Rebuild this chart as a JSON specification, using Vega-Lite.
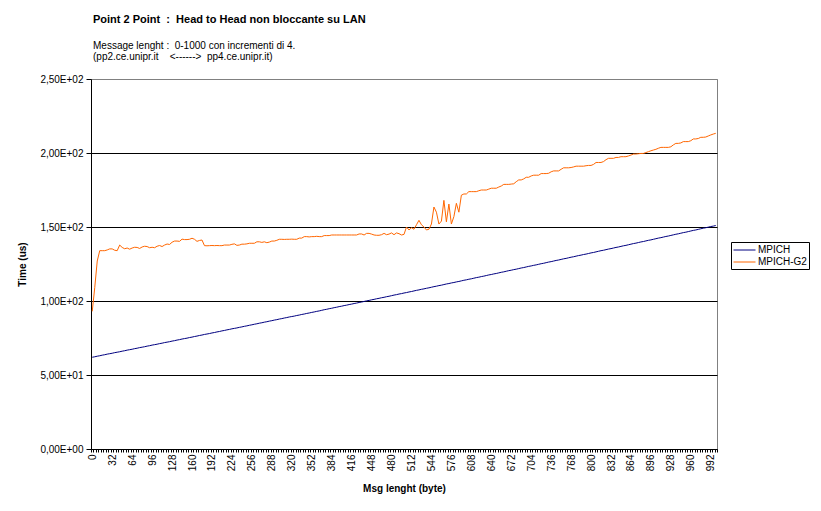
{
  "$schema": "https://vega.github.io/schema/vega-lite/v6.json",
  "description": "Point 2 Point: Head to Head non bloccante su LAN, MPICH vs MPICH-G2",
  "width": 626,
  "height": 370,
  "autosize": "none",
  "padding": {"left": 91, "top": 79, "right": 104, "bottom": 62},
  "background": "white",
  "title": {
    "text": "Point 2 Point \u00a0:\u00a0 Head to Head non bloccante su LAN",
    "subtitle": ["Message lenght : \u00a00-1000 con incrementi di 4.", "(pp2.ce.unipr.it \u00a0\u00a0 <------> \u00a0pp4.ce.unipr.it)"],
    "anchor": "start",
    "frame": "group",
    "dx": 2,
    "offset": 12,
    "font": "Liberation Sans",
    "fontSize": 11,
    "fontWeight": "bold",
    "color": "black",
    "subtitleFont": "Liberation Sans",
    "subtitleFontSize": 10,
    "subtitleColor": "black",
    "subtitleLineHeight": 11,
    "subtitlePadding": 16
  },
  "data": {
    "values": [
      {"b": 0, "MPICH": 62.0, "MPICH-G2": 93},
      {"b": 4, "MPICH": 62.3, "MPICH-G2": 109},
      {"b": 8, "MPICH": 62.7, "MPICH-G2": 127},
      {"b": 12, "MPICH": 63.0, "MPICH-G2": 134},
      {"b": 16, "MPICH": 63.4, "MPICH-G2": 134},
      {"b": 20, "MPICH": 63.7, "MPICH-G2": 134},
      {"b": 24, "MPICH": 64.1, "MPICH-G2": 134.5},
      {"b": 28, "MPICH": 64.4, "MPICH-G2": 135.2},
      {"b": 32, "MPICH": 64.7, "MPICH-G2": 135.2},
      {"b": 36, "MPICH": 65.1, "MPICH-G2": 134.3},
      {"b": 40, "MPICH": 65.4, "MPICH-G2": 134},
      {"b": 44, "MPICH": 65.7, "MPICH-G2": 137.8},
      {"b": 48, "MPICH": 66.1, "MPICH-G2": 136.2},
      {"b": 52, "MPICH": 66.4, "MPICH-G2": 135.3},
      {"b": 56, "MPICH": 66.8, "MPICH-G2": 135.8},
      {"b": 60, "MPICH": 67.1, "MPICH-G2": 135},
      {"b": 64, "MPICH": 67.4, "MPICH-G2": 135.8},
      {"b": 68, "MPICH": 67.8, "MPICH-G2": 136.3},
      {"b": 72, "MPICH": 68.1, "MPICH-G2": 136.2},
      {"b": 76, "MPICH": 68.5, "MPICH-G2": 135.5},
      {"b": 80, "MPICH": 68.8, "MPICH-G2": 136.5},
      {"b": 84, "MPICH": 69.1, "MPICH-G2": 137},
      {"b": 88, "MPICH": 69.5, "MPICH-G2": 136.8},
      {"b": 92, "MPICH": 69.8, "MPICH-G2": 136},
      {"b": 96, "MPICH": 70.2, "MPICH-G2": 136.3},
      {"b": 100, "MPICH": 70.5, "MPICH-G2": 136},
      {"b": 104, "MPICH": 70.8, "MPICH-G2": 137},
      {"b": 108, "MPICH": 71.2, "MPICH-G2": 137.5},
      {"b": 112, "MPICH": 71.5, "MPICH-G2": 136.8},
      {"b": 116, "MPICH": 71.9, "MPICH-G2": 137.8},
      {"b": 120, "MPICH": 72.2, "MPICH-G2": 138.5},
      {"b": 124, "MPICH": 72.5, "MPICH-G2": 138.2},
      {"b": 128, "MPICH": 72.9, "MPICH-G2": 139.7},
      {"b": 132, "MPICH": 73.2, "MPICH-G2": 140.5},
      {"b": 136, "MPICH": 73.6, "MPICH-G2": 140.5},
      {"b": 140, "MPICH": 73.9, "MPICH-G2": 140.3},
      {"b": 144, "MPICH": 74.3, "MPICH-G2": 141.8},
      {"b": 148, "MPICH": 74.6, "MPICH-G2": 141.5},
      {"b": 152, "MPICH": 74.9, "MPICH-G2": 141.5},
      {"b": 156, "MPICH": 75.3, "MPICH-G2": 141.7},
      {"b": 160, "MPICH": 75.6, "MPICH-G2": 142.4},
      {"b": 164, "MPICH": 76.0, "MPICH-G2": 141.7},
      {"b": 168, "MPICH": 76.3, "MPICH-G2": 140.3},
      {"b": 172, "MPICH": 76.7, "MPICH-G2": 140.9},
      {"b": 176, "MPICH": 77.0, "MPICH-G2": 141.2},
      {"b": 180, "MPICH": 77.4, "MPICH-G2": 137.4},
      {"b": 184, "MPICH": 77.7, "MPICH-G2": 137.3},
      {"b": 188, "MPICH": 78.0, "MPICH-G2": 137.4},
      {"b": 192, "MPICH": 78.4, "MPICH-G2": 137.5},
      {"b": 196, "MPICH": 78.7, "MPICH-G2": 137.4},
      {"b": 200, "MPICH": 79.1, "MPICH-G2": 137.5},
      {"b": 204, "MPICH": 79.4, "MPICH-G2": 137.4},
      {"b": 208, "MPICH": 79.8, "MPICH-G2": 137.4},
      {"b": 212, "MPICH": 80.1, "MPICH-G2": 137.8},
      {"b": 216, "MPICH": 80.5, "MPICH-G2": 137.8},
      {"b": 220, "MPICH": 80.8, "MPICH-G2": 137.8},
      {"b": 224, "MPICH": 81.2, "MPICH-G2": 138.3},
      {"b": 228, "MPICH": 81.5, "MPICH-G2": 138.6},
      {"b": 232, "MPICH": 81.8, "MPICH-G2": 137.6},
      {"b": 236, "MPICH": 82.2, "MPICH-G2": 137.8},
      {"b": 240, "MPICH": 82.5, "MPICH-G2": 138.4},
      {"b": 244, "MPICH": 82.9, "MPICH-G2": 138.4},
      {"b": 248, "MPICH": 83.2, "MPICH-G2": 138.6},
      {"b": 252, "MPICH": 83.6, "MPICH-G2": 139},
      {"b": 256, "MPICH": 83.9, "MPICH-G2": 139},
      {"b": 260, "MPICH": 84.3, "MPICH-G2": 139},
      {"b": 264, "MPICH": 84.6, "MPICH-G2": 140},
      {"b": 268, "MPICH": 85.0, "MPICH-G2": 140},
      {"b": 272, "MPICH": 85.3, "MPICH-G2": 139.6},
      {"b": 276, "MPICH": 85.7, "MPICH-G2": 140},
      {"b": 280, "MPICH": 86.0, "MPICH-G2": 139.4},
      {"b": 284, "MPICH": 86.4, "MPICH-G2": 139.8},
      {"b": 288, "MPICH": 86.7, "MPICH-G2": 140.5},
      {"b": 292, "MPICH": 87.1, "MPICH-G2": 140.5},
      {"b": 296, "MPICH": 87.4, "MPICH-G2": 141},
      {"b": 300, "MPICH": 87.8, "MPICH-G2": 141.7},
      {"b": 304, "MPICH": 88.1, "MPICH-G2": 141.7},
      {"b": 308, "MPICH": 88.5, "MPICH-G2": 141.6},
      {"b": 312, "MPICH": 88.8, "MPICH-G2": 141.7},
      {"b": 316, "MPICH": 89.2, "MPICH-G2": 141.7},
      {"b": 320, "MPICH": 89.5, "MPICH-G2": 141.8},
      {"b": 324, "MPICH": 89.8, "MPICH-G2": 141.7},
      {"b": 328, "MPICH": 90.2, "MPICH-G2": 141.7},
      {"b": 332, "MPICH": 90.5, "MPICH-G2": 142.5},
      {"b": 336, "MPICH": 90.9, "MPICH-G2": 142.5},
      {"b": 340, "MPICH": 91.2, "MPICH-G2": 143.5},
      {"b": 344, "MPICH": 91.6, "MPICH-G2": 143.5},
      {"b": 348, "MPICH": 91.9, "MPICH-G2": 143.3},
      {"b": 352, "MPICH": 92.3, "MPICH-G2": 143.5},
      {"b": 356, "MPICH": 92.6, "MPICH-G2": 143.5},
      {"b": 360, "MPICH": 93.0, "MPICH-G2": 143.7},
      {"b": 364, "MPICH": 93.3, "MPICH-G2": 143.5},
      {"b": 368, "MPICH": 93.7, "MPICH-G2": 143.5},
      {"b": 372, "MPICH": 94.1, "MPICH-G2": 144.2},
      {"b": 376, "MPICH": 94.4, "MPICH-G2": 144.2},
      {"b": 380, "MPICH": 94.8, "MPICH-G2": 144.2},
      {"b": 384, "MPICH": 95.1, "MPICH-G2": 144.6},
      {"b": 388, "MPICH": 95.5, "MPICH-G2": 144.6},
      {"b": 392, "MPICH": 95.8, "MPICH-G2": 144.6},
      {"b": 396, "MPICH": 96.2, "MPICH-G2": 144.6},
      {"b": 400, "MPICH": 96.5, "MPICH-G2": 144.6},
      {"b": 404, "MPICH": 96.9, "MPICH-G2": 144.6},
      {"b": 408, "MPICH": 97.2, "MPICH-G2": 144.6},
      {"b": 412, "MPICH": 97.6, "MPICH-G2": 144.6},
      {"b": 416, "MPICH": 97.9, "MPICH-G2": 144.6},
      {"b": 420, "MPICH": 98.3, "MPICH-G2": 144.6},
      {"b": 424, "MPICH": 98.6, "MPICH-G2": 144.6},
      {"b": 428, "MPICH": 99.0, "MPICH-G2": 145.3},
      {"b": 432, "MPICH": 99.3, "MPICH-G2": 145.3},
      {"b": 436, "MPICH": 99.7, "MPICH-G2": 144.6},
      {"b": 440, "MPICH": 100.1, "MPICH-G2": 145.7},
      {"b": 444, "MPICH": 100.4, "MPICH-G2": 145.7},
      {"b": 448, "MPICH": 100.8, "MPICH-G2": 145.2},
      {"b": 452, "MPICH": 101.1, "MPICH-G2": 144.6},
      {"b": 456, "MPICH": 101.5, "MPICH-G2": 144.4},
      {"b": 460, "MPICH": 101.8, "MPICH-G2": 144.4},
      {"b": 464, "MPICH": 102.2, "MPICH-G2": 144.8},
      {"b": 468, "MPICH": 102.5, "MPICH-G2": 145.7},
      {"b": 472, "MPICH": 102.9, "MPICH-G2": 144.8},
      {"b": 476, "MPICH": 103.2, "MPICH-G2": 145.2},
      {"b": 480, "MPICH": 103.6, "MPICH-G2": 146},
      {"b": 484, "MPICH": 104.0, "MPICH-G2": 144.8},
      {"b": 488, "MPICH": 104.3, "MPICH-G2": 146},
      {"b": 492, "MPICH": 104.7, "MPICH-G2": 145.5},
      {"b": 496, "MPICH": 105.0, "MPICH-G2": 144.6},
      {"b": 500, "MPICH": 105.4, "MPICH-G2": 145},
      {"b": 504, "MPICH": 105.7, "MPICH-G2": 150},
      {"b": 508, "MPICH": 106.1, "MPICH-G2": 148},
      {"b": 512, "MPICH": 106.4, "MPICH-G2": 149.5},
      {"b": 516, "MPICH": 106.8, "MPICH-G2": 148.5},
      {"b": 520, "MPICH": 107.2, "MPICH-G2": 151.5},
      {"b": 524, "MPICH": 107.5, "MPICH-G2": 154.5},
      {"b": 528, "MPICH": 107.9, "MPICH-G2": 151.5},
      {"b": 532, "MPICH": 108.2, "MPICH-G2": 150},
      {"b": 536, "MPICH": 108.6, "MPICH-G2": 148},
      {"b": 540, "MPICH": 108.9, "MPICH-G2": 148.5},
      {"b": 544, "MPICH": 109.3, "MPICH-G2": 152},
      {"b": 548, "MPICH": 109.7, "MPICH-G2": 163.5},
      {"b": 552, "MPICH": 110.0, "MPICH-G2": 160},
      {"b": 556, "MPICH": 110.4, "MPICH-G2": 152},
      {"b": 560, "MPICH": 110.7, "MPICH-G2": 154},
      {"b": 564, "MPICH": 111.1, "MPICH-G2": 168},
      {"b": 568, "MPICH": 111.5, "MPICH-G2": 153.5},
      {"b": 572, "MPICH": 111.8, "MPICH-G2": 165.5},
      {"b": 576, "MPICH": 112.2, "MPICH-G2": 152},
      {"b": 580, "MPICH": 112.5, "MPICH-G2": 157},
      {"b": 584, "MPICH": 112.9, "MPICH-G2": 166},
      {"b": 588, "MPICH": 113.2, "MPICH-G2": 160},
      {"b": 592, "MPICH": 113.6, "MPICH-G2": 171.5},
      {"b": 596, "MPICH": 114.0, "MPICH-G2": 172.3},
      {"b": 600, "MPICH": 114.3, "MPICH-G2": 172.3},
      {"b": 604, "MPICH": 114.7, "MPICH-G2": 173.9},
      {"b": 608, "MPICH": 115.0, "MPICH-G2": 173.9},
      {"b": 612, "MPICH": 115.4, "MPICH-G2": 173.9},
      {"b": 616, "MPICH": 115.8, "MPICH-G2": 173.9},
      {"b": 620, "MPICH": 116.1, "MPICH-G2": 174.5},
      {"b": 624, "MPICH": 116.5, "MPICH-G2": 175},
      {"b": 628, "MPICH": 116.8, "MPICH-G2": 175},
      {"b": 632, "MPICH": 117.2, "MPICH-G2": 175},
      {"b": 636, "MPICH": 117.6, "MPICH-G2": 175.6},
      {"b": 640, "MPICH": 117.9, "MPICH-G2": 176.2},
      {"b": 644, "MPICH": 118.3, "MPICH-G2": 176.2},
      {"b": 648, "MPICH": 118.6, "MPICH-G2": 176.2},
      {"b": 652, "MPICH": 119.0, "MPICH-G2": 177},
      {"b": 656, "MPICH": 119.4, "MPICH-G2": 177.7},
      {"b": 660, "MPICH": 119.7, "MPICH-G2": 178.8},
      {"b": 664, "MPICH": 120.1, "MPICH-G2": 178.8},
      {"b": 668, "MPICH": 120.5, "MPICH-G2": 178.8},
      {"b": 672, "MPICH": 120.8, "MPICH-G2": 179},
      {"b": 676, "MPICH": 121.2, "MPICH-G2": 179.2},
      {"b": 680, "MPICH": 121.5, "MPICH-G2": 180.6},
      {"b": 684, "MPICH": 121.9, "MPICH-G2": 181.8},
      {"b": 688, "MPICH": 122.3, "MPICH-G2": 181.8},
      {"b": 692, "MPICH": 122.6, "MPICH-G2": 182.5},
      {"b": 696, "MPICH": 123.0, "MPICH-G2": 183.6},
      {"b": 700, "MPICH": 123.4, "MPICH-G2": 183.6},
      {"b": 704, "MPICH": 123.7, "MPICH-G2": 184.5},
      {"b": 708, "MPICH": 124.1, "MPICH-G2": 185},
      {"b": 712, "MPICH": 124.4, "MPICH-G2": 185},
      {"b": 716, "MPICH": 124.8, "MPICH-G2": 185},
      {"b": 720, "MPICH": 125.2, "MPICH-G2": 186.1},
      {"b": 724, "MPICH": 125.5, "MPICH-G2": 186.1},
      {"b": 728, "MPICH": 125.9, "MPICH-G2": 186.1},
      {"b": 732, "MPICH": 126.3, "MPICH-G2": 186.3},
      {"b": 736, "MPICH": 126.6, "MPICH-G2": 187.3},
      {"b": 740, "MPICH": 127.0, "MPICH-G2": 187.9},
      {"b": 744, "MPICH": 127.4, "MPICH-G2": 187.9},
      {"b": 748, "MPICH": 127.7, "MPICH-G2": 187.9},
      {"b": 752, "MPICH": 128.1, "MPICH-G2": 189},
      {"b": 756, "MPICH": 128.5, "MPICH-G2": 190},
      {"b": 760, "MPICH": 128.8, "MPICH-G2": 190},
      {"b": 764, "MPICH": 129.2, "MPICH-G2": 190},
      {"b": 768, "MPICH": 129.6, "MPICH-G2": 190.2},
      {"b": 772, "MPICH": 129.9, "MPICH-G2": 190.6},
      {"b": 776, "MPICH": 130.3, "MPICH-G2": 191.1},
      {"b": 780, "MPICH": 130.7, "MPICH-G2": 191.1},
      {"b": 784, "MPICH": 131.0, "MPICH-G2": 191.1},
      {"b": 788, "MPICH": 131.4, "MPICH-G2": 191.1},
      {"b": 792, "MPICH": 131.7, "MPICH-G2": 191.4},
      {"b": 796, "MPICH": 132.1, "MPICH-G2": 191.6},
      {"b": 800, "MPICH": 132.5, "MPICH-G2": 191.6},
      {"b": 804, "MPICH": 132.8, "MPICH-G2": 192.3},
      {"b": 808, "MPICH": 133.2, "MPICH-G2": 193.6},
      {"b": 812, "MPICH": 133.6, "MPICH-G2": 193.6},
      {"b": 816, "MPICH": 134.0, "MPICH-G2": 193.6},
      {"b": 820, "MPICH": 134.3, "MPICH-G2": 194.2},
      {"b": 824, "MPICH": 134.7, "MPICH-G2": 195.5},
      {"b": 828, "MPICH": 135.1, "MPICH-G2": 196.4},
      {"b": 832, "MPICH": 135.4, "MPICH-G2": 196.4},
      {"b": 836, "MPICH": 135.8, "MPICH-G2": 196.4},
      {"b": 840, "MPICH": 136.2, "MPICH-G2": 197},
      {"b": 844, "MPICH": 136.5, "MPICH-G2": 197},
      {"b": 848, "MPICH": 136.9, "MPICH-G2": 197.5},
      {"b": 852, "MPICH": 137.3, "MPICH-G2": 197.5},
      {"b": 856, "MPICH": 137.6, "MPICH-G2": 197.5},
      {"b": 860, "MPICH": 138.0, "MPICH-G2": 198},
      {"b": 864, "MPICH": 138.4, "MPICH-G2": 198.6},
      {"b": 868, "MPICH": 138.8, "MPICH-G2": 199.3},
      {"b": 872, "MPICH": 139.1, "MPICH-G2": 199.3},
      {"b": 876, "MPICH": 139.5, "MPICH-G2": 199.5},
      {"b": 880, "MPICH": 139.9, "MPICH-G2": 199.7},
      {"b": 884, "MPICH": 140.2, "MPICH-G2": 199.7},
      {"b": 888, "MPICH": 140.6, "MPICH-G2": 200.3},
      {"b": 892, "MPICH": 141.0, "MPICH-G2": 200.9},
      {"b": 896, "MPICH": 141.3, "MPICH-G2": 201.5},
      {"b": 900, "MPICH": 141.7, "MPICH-G2": 202},
      {"b": 904, "MPICH": 142.1, "MPICH-G2": 202.5},
      {"b": 908, "MPICH": 142.5, "MPICH-G2": 203.2},
      {"b": 912, "MPICH": 142.8, "MPICH-G2": 203.8},
      {"b": 916, "MPICH": 143.2, "MPICH-G2": 203.8},
      {"b": 920, "MPICH": 143.6, "MPICH-G2": 203.8},
      {"b": 924, "MPICH": 143.9, "MPICH-G2": 203.8},
      {"b": 928, "MPICH": 144.3, "MPICH-G2": 204.2},
      {"b": 932, "MPICH": 144.7, "MPICH-G2": 205.5},
      {"b": 936, "MPICH": 145.1, "MPICH-G2": 206.5},
      {"b": 940, "MPICH": 145.4, "MPICH-G2": 206.5},
      {"b": 944, "MPICH": 145.8, "MPICH-G2": 206.8},
      {"b": 948, "MPICH": 146.2, "MPICH-G2": 207.7},
      {"b": 952, "MPICH": 146.5, "MPICH-G2": 207.7},
      {"b": 956, "MPICH": 146.9, "MPICH-G2": 207.7},
      {"b": 960, "MPICH": 147.3, "MPICH-G2": 208.3},
      {"b": 964, "MPICH": 147.7, "MPICH-G2": 209.5},
      {"b": 968, "MPICH": 148.0, "MPICH-G2": 209.5},
      {"b": 972, "MPICH": 148.4, "MPICH-G2": 209.8},
      {"b": 976, "MPICH": 148.8, "MPICH-G2": 210.6},
      {"b": 980, "MPICH": 149.2, "MPICH-G2": 210.6},
      {"b": 984, "MPICH": 149.5, "MPICH-G2": 210.8},
      {"b": 988, "MPICH": 149.9, "MPICH-G2": 211.5},
      {"b": 992, "MPICH": 150.3, "MPICH-G2": 212.2},
      {"b": 996, "MPICH": 150.6, "MPICH-G2": 212.8},
      {"b": 1000, "MPICH": 151.0, "MPICH-G2": 213.3}
    ]
  },
  "transform": [{"fold": ["MPICH", "MPICH-G2"], "as": ["serie", "t"]}],
  "mark": {"type": "line", "strokeWidth": 1, "interpolate": "linear"},
  "encoding": {
    "x": {
      "field": "b",
      "type": "ordinal",
      "bandPosition": 0.5,
      "scale": {"type": "band", "paddingInner": 0, "paddingOuter": 0},
      "axis": {
        "title": "Msg lenght (byte)",
        "labelExpr": "datum.value % 32 == 0 ? datum.label : ''",
        "labelAngle": -90,
        "labelOverlap": false,
        "labelBound": false,
        "tickBand": "extent",
        "tickSize": 3,
        "labelPadding": 2,
        "titlePadding": 13,
        "grid": false
      }
    },
    "y": {
      "field": "t",
      "type": "quantitative",
      "scale": {"domain": [0, 250], "nice": false},
      "axis": {
        "title": "Time (us)",
        "values": [0, 50, 100, 150, 200, 250],
        "labelExpr": "datum.value == 0 ? '0,00E+00' : datum.value == 50 ? '5,00E+01' : datum.value == 100 ? '1,00E+02' : datum.value == 150 ? '1,50E+02' : datum.value == 200 ? '2,00E+02' : '2,50E+02'",
        "grid": true,
        "gridColor": {"condition": {"test": "datum.value == 250", "value": "#808080"}, "value": "black"},
        "tickSize": 5,
        "labelPadding": 3,
        "titlePadding": 12
      }
    },
    "color": {
      "field": "serie",
      "type": "nominal",
      "scale": {"domain": ["MPICH", "MPICH-G2"], "range": ["#000080", "#ff6600"]},
      "legend": {
        "title": null,
        "orient": "none",
        "legendX": 640,
        "legendY": 163,
        "strokeColor": "black",
        "fillColor": "white",
        "padding": 2,
        "symbolType": "M-1,0H3",
        "symbolSize": 121,
        "symbolStrokeWidth": 1,
        "rowPadding": 1,
        "labelOffset": 13
      }
    }
  },
  "config": {
    "view": {"stroke": "#808080", "strokeWidth": 1},
    "axis": {
      "labelFont": "Liberation Sans",
      "labelFontSize": 10,
      "labelColor": "black",
      "titleFont": "Liberation Sans",
      "titleFontSize": 10,
      "titleFontWeight": "bold",
      "titleColor": "black",
      "domainColor": "black",
      "tickColor": "black",
      "gridWidth": 1,
      "gridOpacity": 1
    },
    "legend": {
      "labelFont": "Liberation Sans",
      "labelFontSize": 10,
      "labelColor": "black"
    }
  }
}
